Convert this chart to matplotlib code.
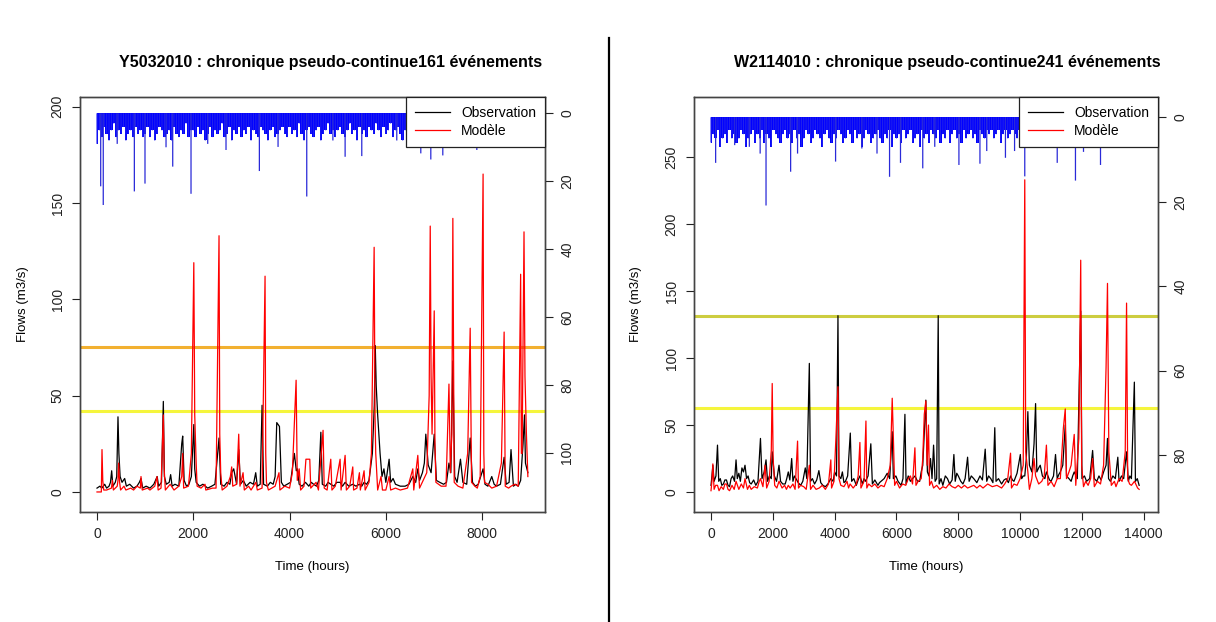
import matplotlib
matplotlib.use("Agg")
from matplotlib import pyplot as plt
from matplotlib.lines import Line2D

plt.rcParams['font.family'] = ['Liberation Sans', 'DejaVu Sans']

# ---------------- Y5032010 (left) ----------------
y50_title = "Y5032010 : chronique pseudo-continue161 événements"
# (time in hours, flow in m3/s)
y50_obs = [(0, 2), (60, 3), (100, 2), (160, 4), (200, 2), (250, 3), (280, 5), (305, 11), (330, 3), (380, 5),
           (410, 8), (436, 39), (455, 20), (480, 8), (520, 5), (575, 7), (610, 3), (680, 4), (760, 2), (830, 3),
           (880, 5), (914, 7), (950, 2), (1020, 3), (1100, 2), (1180, 4), (1250, 8), (1280, 3), (1340, 5),
           (1378, 47), (1400, 8), (1440, 4), (1500, 5), (1530, 9), (1560, 3), (1620, 4), (1700, 3), (1760, 25),
           (1780, 29), (1810, 6), (1860, 3), (1910, 4), (1960, 8), (2011, 35), (2030, 12), (2060, 5), (2130, 3),
           (2200, 4), (2300, 2), (2380, 3), (2450, 4), (2535, 28), (2570, 4), (2640, 3), (2700, 5), (2760, 4),
           (2798, 10), (2840, 12), (2900, 4), (2944, 22), (2980, 4), (3040, 6), (3100, 3), (3180, 5), (3250, 4),
           (3297, 10), (3330, 3), (3390, 4), (3429, 45), (3460, 4), (3540, 3), (3600, 5), (3660, 4), (3700, 8),
           (3734, 36), (3790, 34), (3830, 5), (3880, 3), (3950, 4), (4020, 5), (4100, 20), (4140, 11), (4163, 12),
           (4200, 4), (4260, 3), (4330, 5), (4400, 3), (4450, 5), (4500, 4), (4560, 3), (4607, 6), (4650, 31),
           (4680, 4), (4750, 3), (4800, 5), (4856, 4), (4920, 3), (4980, 5), (5050, 5), (5100, 3), (5154, 5),
           (5230, 3), (5313, 4), (5380, 3), (5451, 4), (5500, 3), (5548, 5), (5600, 4), (5650, 6), (5720, 20),
           (5760, 45), (5780, 76), (5800, 55), (5830, 40), (5854, 30), (5880, 20), (5920, 8), (5960, 12),
           (6000, 5), (6068, 17), (6100, 5), (6150, 7), (6200, 4), (6300, 3), (6400, 3), (6480, 4), (6560, 8),
           (6620, 5), (6664, 12), (6700, 6), (6760, 10), (6800, 15), (6830, 30), (6860, 20), (6880, 14),
           (6940, 10), (7005, 30), (7050, 6), (7120, 5), (7200, 4), (7260, 5), (7311, 15), (7350, 10),
           (7392, 68), (7430, 8), (7480, 5), (7550, 17), (7600, 5), (7680, 4), (7752, 28), (7800, 5), (7860, 3),
           (7920, 4), (8020, 12), (8060, 4), (8120, 3), (8200, 8), (8250, 4), (8300, 3), (8380, 4), (8457, 18),
           (8500, 4), (8560, 5), (8600, 22), (8650, 3), (8700, 4), (8750, 3), (8800, 6), (8850, 25), (8880, 40),
           (8900, 15), (8950, 10)]
y50_mod = [(0, 0), (90, 0), (104, 22), (120, 6), (140, 1), (200, 1), (300, 2), (320, 6), (340, 1), (420, 3),
           (436, 6), (450, 15), (470, 5), (490, 1), (560, 3), (600, 1), (700, 2), (760, 1), (830, 3), (900, 2),
           (914, 8), (940, 1), (1050, 2), (1100, 1), (1200, 3), (1247, 8), (1270, 1), (1330, 2), (1378, 40),
           (1395, 12), (1420, 1), (1520, 4), (1600, 1), (1700, 3), (1760, 8), (1780, 20), (1800, 2), (1900, 3),
           (1960, 20), (2011, 119), (2030, 40), (2060, 15), (2080, 3), (2160, 2), (2244, 4), (2260, 1),
           (2400, 2), (2473, 2), (2535, 133), (2550, 30), (2570, 10), (2600, 1), (2700, 3), (2770, 8),
           (2798, 13), (2820, 3), (2900, 4), (2944, 30), (2970, 3), (3034, 10), (3060, 1), (3150, 3), (3200, 1),
           (3300, 5), (3330, 1), (3429, 2), (3491, 112), (3505, 20), (3520, 5), (3560, 1), (3700, 3), (3780, 10),
           (3800, 1), (3900, 3), (4000, 2), (4058, 10), (4136, 58), (4160, 6), (4200, 12), (4230, 1), (4300, 3),
           (4340, 17), (4420, 17), (4440, 2), (4550, 5), (4600, 1), (4696, 32), (4720, 2), (4780, 1), (4856, 17),
           (4880, 1), (4950, 3), (5050, 17), (5070, 1), (5154, 19), (5180, 1), (5250, 3), (5313, 13), (5330, 1),
           (5400, 2), (5451, 10), (5470, 1), (5548, 11), (5570, 1), (5650, 5), (5700, 20), (5757, 127),
           (5775, 40), (5790, 20), (5830, 1), (5900, 8), (5930, 1), (6000, 1), (6068, 8), (6100, 1), (6200, 2),
           (6300, 1), (6450, 2), (6560, 12), (6580, 1), (6664, 19), (6700, 2), (6850, 10), (6900, 50),
           (6922, 138), (6940, 60), (6960, 30), (7005, 94), (7020, 25), (7040, 5), (7150, 3), (7250, 3),
           (7311, 56), (7340, 10), (7370, 30), (7392, 142), (7420, 5), (7500, 3), (7600, 2), (7700, 20),
           (7752, 85), (7780, 5), (7850, 3), (7900, 2), (7960, 8), (8020, 165), (8035, 20), (8050, 5), (8120, 4),
           (8200, 2), (8300, 3), (8400, 15), (8457, 83), (8480, 3), (8550, 2), (8600, 3), (8680, 4), (8750, 3),
           (8800, 113), (8815, 20), (8830, 20), (8870, 135), (8890, 60), (8920, 30), (8950, 8)]
# rainfall comb, one value every 50 h (mm)
y50_rain = [9, 5, 7, 4, 6, 8, 5, 3, 7, 5, 6, 4, 8, 6, 5, 7, 4, 6, 5, 7,
            6, 4, 7, 5, 8, 6, 4, 5, 7, 6, 5, 8, 4, 6, 7, 5, 6, 3, 7, 5,
            5, 7, 4, 6, 5, 8, 6, 4, 7, 5, 6, 5, 3, 7, 6, 4, 8, 5, 6, 4,
            7, 5, 6, 4, 8, 5, 6, 7, 4, 5, 6, 8, 5, 4, 7, 6, 5, 4, 6, 7,
            4, 6, 5, 7, 3, 6, 8, 5, 4, 6, 7, 5, 4, 8, 6, 5, 3, 6, 5, 7,
            5, 4, 6, 7, 5, 3, 6, 5, 8, 4, 6, 5, 7, 4, 5, 6, 3, 5, 7, 4,
            6, 5, 3, 7, 5, 4, 6, 8, 5, 4, 6, 3, 5, 7, 4, 6, 5, 4, 7, 5,
            3, 6, 5, 4, 7, 5, 3, 6, 4, 5, 7, 4, 6, 3, 5, 4, 6, 5, 3, 4,
            5, 3, 6, 4, 5, 3, 4, 6, 3, 5, 4, 3, 5, 4, 6, 3, 4, 5, 3, 4]
y50_rain_peaks_t = [77, 130, 420, 776, 997, 1434, 1573, 1953, 2300, 2680, 3373, 3761, 4357, 4900,
                    5154, 5500, 6227, 6726, 6934, 7183, 7890]
y50_rain_peaks = [21.5, 27, 9, 23, 20.7, 10, 15.7, 23.7, 9, 10.8, 17, 9.9, 24.5, 8,
                  12.8, 12.6, 8, 11.8, 13.6, 12.4, 10.8]
y50_thresholds = [75.5, 42]

# ---------------- W2114010 (right) ----------------
w21_title = "W2114010 : chronique pseudo-continue241 événements"
w21_obs = [(0, 5), (30, 12), (60, 20), (100, 8), (160, 12), (210, 35), (250, 8), (300, 10), (350, 5), (400, 6),
           (450, 9), (500, 9), (550, 5), (600, 4), (650, 10), (700, 12), (760, 8), (810, 24), (850, 10),
           (900, 14), (950, 8), (1000, 18), (1050, 15), (1100, 20), (1150, 10), (1200, 12), (1250, 7), (1300, 6),
           (1380, 9), (1450, 5), (1520, 8), (1600, 40), (1650, 10), (1720, 15), (1780, 24), (1830, 8), (1890, 12),
           (1950, 10), (1980, 30), (2050, 12), (2120, 8), (2200, 20), (2250, 8), (2320, 6), (2400, 6), (2450, 10),
           (2500, 15), (2550, 9), (2610, 25), (2650, 8), (2700, 12), (2750, 10), (2820, 7), (2900, 5), (2970, 8),
           (3050, 18), (3100, 10), (3181, 96), (3220, 8), (3280, 10), (3350, 6), (3420, 9), (3490, 16), (3550, 7),
           (3620, 5), (3700, 4), (3780, 6), (3876, 10), (3950, 8), (4000, 15), (4060, 12), (4107, 131.6),
           (4140, 12), (4200, 10), (4250, 15), (4300, 7), (4350, 8), (4420, 12), (4506, 44), (4550, 8),
           (4620, 10), (4700, 5), (4760, 9), (4817, 12), (4900, 6), (4950, 10), (5000, 8), (5080, 12),
           (5170, 36), (5220, 6), (5300, 9), (5400, 5), (5450, 7), (5500, 8), (5600, 10), (5700, 14), (5780, 10),
           (5862, 45), (5900, 10), (5980, 12), (6050, 8), (6150, 5), (6210, 10), (6273, 58), (6310, 6),
           (6380, 12), (6450, 8), (6520, 10), (6600, 12), (6680, 8), (6750, 8), (6800, 15), (6850, 20),
           (6950, 68.6), (7000, 15), (7050, 12), (7100, 25), (7150, 10), (7200, 35), (7250, 8), (7300, 10),
           (7350, 131.6), (7380, 6), (7440, 10), (7500, 5), (7580, 12), (7650, 10), (7720, 6), (7800, 9),
           (7857, 28), (7900, 8), (7950, 14), (8000, 12), (8080, 8), (8150, 6), (8220, 10), (8300, 26),
           (8350, 8), (8420, 12), (8500, 10), (8600, 7), (8700, 12), (8780, 9), (8870, 32), (8920, 8),
           (8980, 12), (9050, 10), (9120, 7), (9180, 48), (9220, 8), (9300, 10), (9400, 6), (9480, 9),
           (9550, 10), (9620, 7), (9690, 12), (9750, 9), (9800, 8), (9900, 14), (10007, 28), (10050, 10),
           (10100, 12), (10150, 12), (10200, 25), (10250, 60), (10300, 20), (10380, 15), (10450, 36),
           (10500, 66), (10540, 15), (10600, 18), (10650, 20), (10720, 12), (10800, 10), (10850, 15),
           (10900, 12), (10950, 9), (11000, 8), (11080, 12), (11145, 28), (11200, 10), (11250, 13), (11300, 15),
           (11380, 20), (11460, 50), (11500, 12), (11580, 10), (11650, 8), (11700, 12), (11750, 15),
           (11850, 10), (11960, 135), (12000, 10), (12080, 12), (12150, 8), (12250, 10), (12345, 31),
           (12400, 10), (12480, 8), (12550, 12), (12620, 9), (12700, 15), (12780, 20), (12826, 40), (12860, 10),
           (12920, 8), (13000, 12), (13080, 10), (13160, 26), (13200, 8), (13280, 12), (13350, 10), (13443, 30),
           (13500, 8), (13550, 12), (13600, 10), (13695, 82), (13730, 8), (13790, 10), (13850, 5)]
w21_mod = [(0, 1), (30, 8), (60, 21), (100, 2), (150, 5), (210, 5), (260, 1), (330, 4), (400, 2), (450, 6),
           (500, 6), (550, 2), (600, 1), (680, 5), (750, 2), (810, 8), (900, 2), (980, 6), (1050, 3), (1100, 10),
           (1180, 2), (1240, 5), (1300, 2), (1400, 4), (1500, 3), (1560, 8), (1600, 10), (1680, 4), (1750, 20),
           (1800, 3), (1880, 8), (1950, 31), (1980, 81), (2010, 25), (2060, 5), (2130, 3), (2200, 8), (2300, 3),
           (2380, 5), (2440, 2), (2500, 5), (2560, 3), (2650, 6), (2720, 2), (2800, 38), (2830, 3), (2900, 5),
           (3000, 4), (3080, 2), (3181, 20), (3220, 2), (3300, 5), (3400, 2), (3500, 3), (3600, 5), (3700, 2),
           (3800, 6), (3876, 24), (3900, 3), (3980, 8), (4040, 40), (4107, 78.6), (4140, 10), (4200, 5),
           (4300, 4), (4400, 8), (4450, 3), (4500, 6), (4600, 3), (4700, 6), (4760, 12), (4817, 37), (4850, 3),
           (4950, 8), (5012, 53), (5040, 3), (5100, 6), (5200, 4), (5300, 6), (5400, 3), (5500, 5), (5600, 4),
           (5700, 10), (5800, 20), (5862, 70), (5900, 40), (5940, 5), (6000, 8), (6100, 3), (6200, 6), (6300, 5),
           (6380, 10), (6450, 12), (6520, 6), (6596, 33), (6630, 5), (6700, 8), (6800, 10), (6850, 25),
           (6900, 58), (6950, 68), (6990, 20), (7035, 50), (7070, 5), (7130, 8), (7200, 3), (7300, 5), (7400, 2),
           (7500, 4), (7600, 3), (7700, 6), (7800, 4), (7900, 3), (8000, 5), (8100, 3), (8200, 5), (8300, 3),
           (8400, 4), (8500, 5), (8600, 3), (8700, 5), (8800, 3), (8950, 6), (9100, 4), (9250, 5), (9400, 3),
           (9500, 6), (9600, 10), (9690, 29), (9720, 3), (9800, 6), (9900, 5), (10000, 10), (10100, 20),
           (10150, 233), (10180, 30), (10250, 15), (10300, 2), (10380, 10), (10450, 25), (10500, 12),
           (10600, 6), (10700, 8), (10780, 12), (10850, 35), (10900, 5), (11000, 8), (11100, 4), (11200, 10),
           (11300, 10), (11400, 48), (11460, 62), (11500, 10), (11580, 15), (11650, 20), (11750, 43),
           (11800, 5), (11900, 40), (11960, 173), (11990, 20), (12050, 4), (12120, 8), (12200, 5), (12280, 10),
           (12345, 25), (12400, 4), (12500, 8), (12600, 6), (12700, 20), (12780, 93), (12826, 155.7),
           (12870, 30), (12950, 5), (13050, 8), (13100, 4), (13200, 10), (13300, 8), (13400, 30), (13443, 141),
           (13480, 10), (13540, 6), (13600, 5), (13700, 8), (13800, 3), (13850, 2)]
# rainfall comb, one value every 75 h (mm)
w21_rain = [6, 4, 5, 3, 7, 5, 4, 6, 3, 5, 4, 6, 5, 3, 4, 7, 5, 4, 3, 6,
            4, 5, 3, 6, 4, 5, 7, 3, 4, 5, 6, 4, 3, 5, 4, 6, 3, 5, 4, 7,
            5, 3, 4, 6, 5, 3, 4, 5, 7, 4, 3, 5, 6, 4, 5, 3, 4, 6, 5, 3,
            4, 6, 3, 5, 4, 7, 5, 3, 4, 6, 5, 4, 3, 5, 6, 4, 5, 3, 7, 4,
            5, 4, 6, 3, 5, 4, 3, 6, 5, 4, 7, 3, 5, 4, 6, 3, 4, 5, 3, 6,
            4, 5, 3, 6, 4, 3, 5, 4, 6, 3, 5, 4, 3, 5, 4, 6, 3, 4, 5, 3,
            4, 3, 5, 4, 3, 6, 4, 3, 5, 4, 3, 4, 5, 3, 4, 3, 5, 4, 3, 4,
            3, 4, 3, 5, 4, 3, 4, 3, 5, 4, 3, 4, 3, 4, 5, 3, 4, 3, 4, 3,
            4, 3, 4, 3, 5, 3, 4, 3, 4, 3, 3, 4, 3, 4, 3, 4, 3, 3, 4, 3,
            3, 4, 3, 3, 4, 3]
w21_rain_peaks_t = [150, 766, 1240, 1590, 1780, 2576, 2800, 4030, 4880, 5370, 5776, 6130, 6850,
                    7238, 8020, 8700, 8920, 9525, 9820, 10150, 11200, 11790, 12050, 12600, 13270]
w21_rain_peaks = [10.8, 6.6, 7, 8.6, 20.9, 12.9, 8.6, 10.5, 7.4, 8.6, 14.1, 10.8, 12.1,
                  7, 11.3, 11, 8, 9.6, 8, 14, 10.8, 15, 8.2, 11.3, 7]
w21_thresholds = [131.3, 62.7]


def draw_panel(rect, title, title_x, obs, mod, rain_step, rain, peaks_t, peaks,
               thresholds, thr_colors, xlim, xticks, ylim, yticks, plim, pticks):
    ax = fig.add_axes(rect)
    ax2 = ax.twinx()

    for thr, col in zip(thresholds, thr_colors):
        ax.axhline(thr, color=col, lw=2.2, zorder=1)
    ax.plot([p[0] for p in obs], [p[1] for p in obs], color='black', lw=0.9, zorder=2)
    ax.plot([p[0] for p in mod], [p[1] for p in mod], color='#ff0000', lw=0.9, zorder=3)

    rain_t = [i * rain_step for i in range(len(rain))]
    ax2.fill_between(rain_t, 0, rain, step='mid', color='#0000ff', linewidth=0)
    ax2.vlines(rain_t, 0, rain, color='#2020ee', lw=0.8, snap=False)
    ax2.vlines(peaks_t, 0, peaks, color='#2a2ad8', lw=0.9, snap=False)
    ax2.set_ylim(*plim)
    ax2.set_yticks(pticks)

    ax.set_xlim(*xlim)
    ax.set_ylim(*ylim)
    ax.set_xticks(xticks)
    ax.set_yticks(yticks)
    ax.set_xlabel("Time (hours)", fontsize=9.5, labelpad=14)
    ax.set_ylabel("Flows (m3/s)", fontsize=9.5, labelpad=16)

    for a in (ax, ax2):
        a.tick_params(direction='out', length=6, width=0.8, colors='#222222', labelsize=10, pad=5)
        for sp in a.spines.values():
            sp.set_color('#444444')
            sp.set_linewidth(1.0)
    ax.tick_params(axis='y', labelrotation=90)
    ax2.tick_params(axis='y', labelrotation=90)
    for lab in ax.get_yticklabels() + ax2.get_yticklabels():
        lab.set_va('center')

    handles = [Line2D([], [], color='black', lw=0.9), Line2D([], [], color='#ff0000', lw=0.9)]
    leg = ax2.legend(handles, ["Observation", "Modèle"], loc='upper right', fontsize=10, frameon=True,
                     fancybox=False, framealpha=1, edgecolor='#222222', borderaxespad=0,
                     handlelength=2.5, borderpad=0.65, labelspacing=0.3)
    leg.get_frame().set_linewidth(0.9)
    leg.set_zorder(10)

    ax.text(title_x, 1.083, title, transform=ax.transAxes, ha='center', va='center',
            fontsize=11.5, fontweight='bold')
    return ax, ax2


fig = plt.figure(figsize=(12.16, 6.22), dpi=100)
W, H = 1216, 622

draw_panel([80 / W, 110 / H, 465 / W, 415 / H], y50_title, 0.538,
           y50_obs, y50_mod, 50, y50_rain, y50_rain_peaks_t, y50_rain_peaks,
           y50_thresholds, ['#f2b030', '#f5f53c'],
           (-353, 9306), [0, 2000, 4000, 6000, 8000], (-10.4, 205), [0, 50, 100, 150, 200],
           (117.4, -4.8), [0, 20, 40, 60, 80, 100])

draw_panel([694 / W, 110 / H, 464 / W, 415 / H], w21_title, 0.545,
           w21_obs, w21_mod, 75, w21_rain, w21_rain_peaks_t, w21_rain_peaks,
           w21_thresholds, ['#cdcd40', '#f5f53c'],
           (-550, 14460), list(range(0, 14001, 2000)), (-14.9, 294.8), [0, 50, 100, 150, 200, 250],
           (93.5, -4.8), [0, 20, 40, 60, 80])

fig.add_artist(Line2D([609 / W, 609 / W], [0, 1 - 38 / H], color='black', lw=1.6,
                      transform=fig.transFigure))

fig.savefig("out.png", dpi=100, facecolor='white')
